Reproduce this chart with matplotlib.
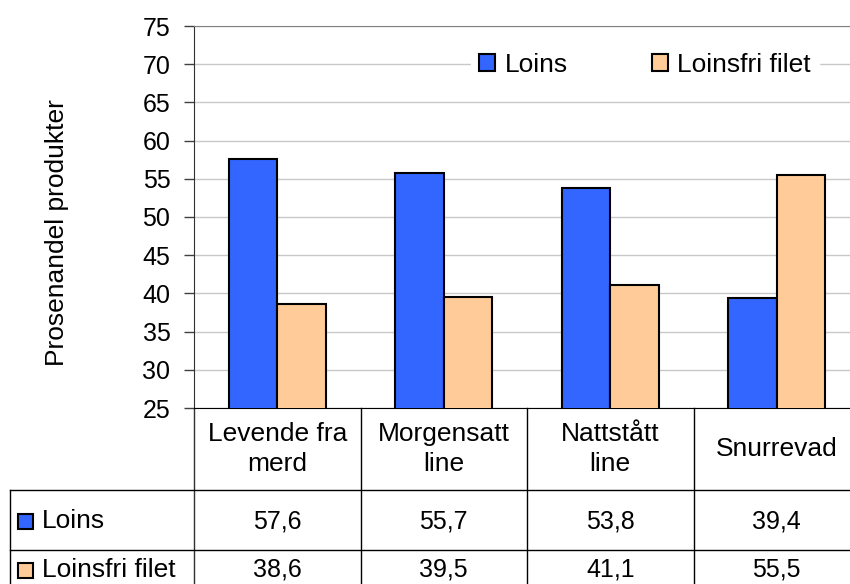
import matplotlib
matplotlib.use("Agg")
import matplotlib.pyplot as plt
from matplotlib.lines import Line2D
from matplotlib.patches import Rectangle

categories = ["Levende fra\nmerd", "Morgensatt\nline", "Nattstått\nline", "Snurrevad"]
loins = [57.6, 55.7, 53.8, 39.4]
loinsfri = [38.6, 39.5, 41.1, 55.5]
series_names = ["Loins", "Loinsfri filet"]
value_labels = [["57,6", "55,7", "53,8", "39,4"],
                ["38,6", "39,5", "41,1", "55,5"]]

blue = "#3366ff"
peach = "#ffcc99"
fs = 19

plt.rcParams['font.family'] = ['Liberation Sans', 'DejaVu Sans']

W, H = 850, 584
fig = plt.figure(figsize=(W / 100, H / 100), dpi=100)

def fx(px):
    return px / W

def fy(py):
    return 1 - py / H

ax_l, ax_r, ax_t, ax_b = 194, 860, 26, 408
ax = fig.add_axes([fx(ax_l), fy(ax_b), (ax_r - ax_l) / W, (ax_b - ax_t) / H])

x = list(range(len(categories)))
bw = 0.29
ax.bar([i - bw / 2 for i in x], loins, bw, color=blue,
       edgecolor="black", linewidth=1.5, label=series_names[0], zorder=3)
ax.bar([i + bw / 2 for i in x], loinsfri, bw, color=peach,
       edgecolor="black", linewidth=1.5, label=series_names[1], zorder=3)

ax.set_xlim(-0.5, len(categories) - 0.5)
ax.set_ylim(25, 75)
ax.set_yticks(range(25, 80, 5))
ax.set_xticks([])
ax.tick_params(axis="y", labelsize=18, length=7, width=1, color="#404040", pad=10)
ax.yaxis.grid(True, color="#c8c8c8", linewidth=1, zorder=0)
ax.set_axisbelow(True)
ax.spines["right"].set_visible(False)
ax.spines["top"].set_color("#808080")
ax.spines["left"].set_color("#303030")
ax.spines["bottom"].set_color("black")

ax.set_ylabel("Prosenandel produkter", fontsize=fs, va="center")
ax.yaxis.set_label_coords(fx(57 - ax_l) * W / (ax_r - ax_l), 0.46)

leg = ax.legend(loc="center", bbox_to_anchor=(fx(645), fy(65)),
                bbox_transform=fig.transFigure, ncol=2, fontsize=fs,
                frameon=True, fancybox=False, edgecolor="white", framealpha=1,
                handlelength=0.6, handleheight=0.6, handletextpad=0.35,
                columnspacing=3.2, borderpad=0.3)
for h in leg.legend_handles:
    h.set_linewidth(1.5)

# data table below the axes
xt = ax.get_xaxis_transform()
ax_h = ax_b - ax_t
def ay(py):
    return (ax_b - py) / ax_h

row1_top, row2_top = 490, 550
for b in [i + 0.5 for i in x[:-1]]:
    ax.add_line(Line2D([b, b], [0, ay(H + 10)], transform=xt, color="black",
                       linewidth=1, clip_on=False))
ax.add_line(Line2D([-0.5, -0.5], [0, ay(H + 10)], transform=xt, color="#303030",
                   linewidth=1, clip_on=False))
for py in [row1_top, row2_top]:
    fig.add_artist(Line2D([fx(10), 1], [fy(py), fy(py)], color="black", linewidth=1))
fig.add_artist(Line2D([fx(10), fx(10)], [fy(row1_top), 0], color="black", linewidth=1))

for i, c in enumerate(categories):
    ax.text(i, ay(449), c, transform=xt, ha="center", va="center",
            fontsize=fs, linespacing=1.3, clip_on=False)

row_y = [521, 570]
for r, (name, col) in enumerate(zip(series_names, [blue, peach])):
    yc = row_y[r]
    fig.add_artist(Rectangle((fx(18), fy(yc + 8)), fx(15), (15 / H),
                             facecolor=col, edgecolor="black", linewidth=1.5))
    fig.text(fx(42), fy(yc), name, ha="left", va="center", fontsize=fs)
    for i in x:
        ax.text(i, ay(yc), value_labels[r][i], transform=xt, ha="center",
                va="center", fontsize=18, clip_on=False)

fig.savefig("out.png", dpi=100)
